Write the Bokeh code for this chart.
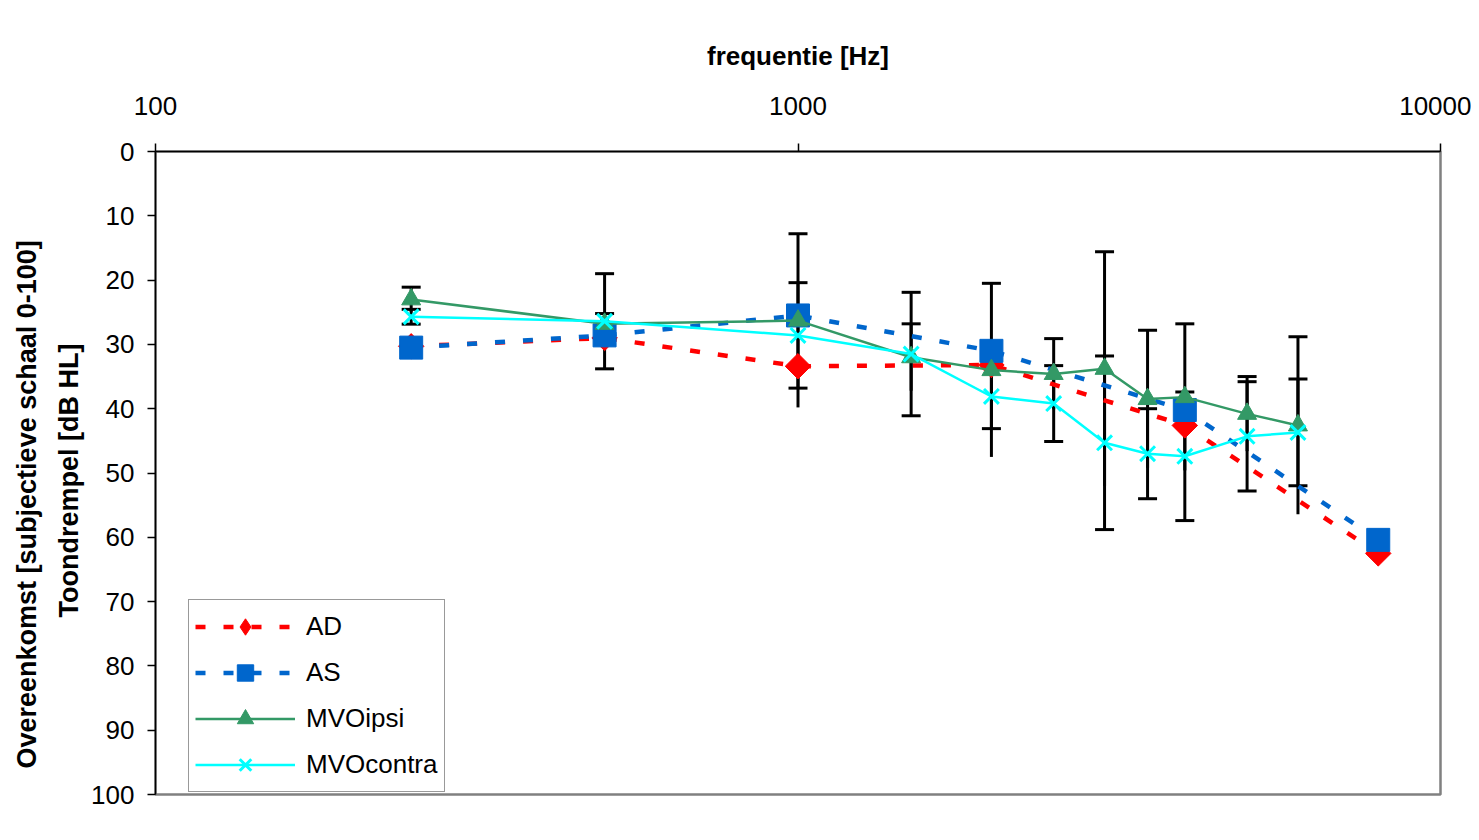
import numpy as np
from bokeh.plotting import figure
from bokeh.models import (Range1d, FixedTicker, NumeralTickFormatter, Legend, LegendItem, Title)
from bokeh.embed import file_html
from bokeh.resources import INLINE

# ---- data ----
freq_a = [250, 500, 1000, 2000, 4000, 8000]
ad = [30.3, 29.0, 33.4, 33.2, 42.6, 62.5]
as_vals = [30.5, 28.6, 25.5, 31.0, 40.2, 60.4]

freq_m = [250, 500, 1000, 1500, 2000, 2500, 3000, 3500, 4000, 5000, 6000]
ipsi = [23.0, 26.8, 26.3, 32.0, 34.0, 34.6, 33.8, 38.5, 38.2, 40.8, 42.6]
ipsi_err = [1.9, 1.6, 13.5, 5.2, 13.5, 5.5, 18.2, 10.7, 11.4, 5.8, 13.8]
contra = [25.7, 26.4, 28.6, 31.5, 38.1, 39.2, 45.3, 47.0, 47.4, 44.3, 43.7]
contra_err = [1.15, 7.4, 8.2, 9.6, 5.0, 5.9, 13.5, 7.0, 10.0, 8.5, 8.3]

x_ticks = [100, 1000, 10000]
y_ticks = [0, 10, 20, 30, 40, 50, 60, 70, 80, 90, 100]

FONT = "Liberation Sans"

p = figure(width=1471, height=832, x_axis_type="log",
           x_range=Range1d(100, 10000), y_range=Range1d(100, 0),
           x_axis_location="above", output_backend="svg", toolbar_location=None,
           min_border_left=155, min_border_right=31, min_border_top=151, min_border_bottom=38,
           background_fill_color="white", border_fill_color="white")

p.xgrid.visible = False
p.ygrid.visible = False
p.outline_line_color = "#808080"
p.outline_line_width = 2.5

for ax in (p.xaxis[0], p.yaxis[0]):
    ax.major_tick_in = 0
    ax.major_tick_out = 8
    ax.minor_tick_line_color = None
    ax.axis_line_color = "black"
    ax.axis_line_width = 1.5
    ax.major_tick_line_color = "black"
    ax.major_tick_line_width = 1.5
    ax.major_label_text_font = FONT
    ax.major_label_text_font_size = "26px"
    ax.major_label_text_color = "black"

p.xaxis.ticker = FixedTicker(ticks=x_ticks)
p.xaxis.formatter = NumeralTickFormatter(format="0")
p.xaxis.major_label_standoff = 29
p.xaxis.axis_label = "frequentie [Hz]"
p.xaxis.axis_label_text_font = FONT
p.xaxis.axis_label_text_font_size = "26px"
p.xaxis.axis_label_text_font_style = "bold"
p.xaxis.axis_label_text_color = "black"
p.xaxis.axis_label_standoff = 23

p.yaxis.ticker = FixedTicker(ticks=y_ticks)
p.yaxis.major_label_standoff = 13

t2 = Title(text="Toondrempel [dB HL]", align="left", offset=177,
           text_font=FONT, text_font_size="27px", text_font_style="bold", text_color="black")
t1 = Title(text="Overeenkomst [subjectieve schaal 0-100]", align="left", offset=26,
           text_font=FONT, text_font_size="27px", text_font_style="bold", text_color="black")
p.add_layout(t2, "left")
p.add_layout(t1, "left")

# ---- error bars (behind the series) ----
ip_lo = [v - e for v, e in zip(ipsi, ipsi_err)]
ip_hi = [v + e for v, e in zip(ipsi, ipsi_err)]
co_lo = [v - e for v, e in zip(contra, contra_err)]
co_hi = [v + e for v, e in zip(contra, contra_err)]

p.segment(x0=freq_m, y0=ip_lo, x1=freq_m, y1=ip_hi, line_color="black", line_width=3)
p.segment(x0=freq_m, y0=co_lo, x1=freq_m, y1=co_hi, line_color="black", line_width=3)
p.scatter(freq_m, ip_lo, marker="dash", size=19, line_color="black", line_width=3)
p.scatter(freq_m, co_lo, marker="dash", size=19, line_color="black", line_width=3)
p.scatter(freq_m, co_hi, marker="dash", size=19, line_color="black", line_width=3)

# ---- series ----
RED = "#FF0000"
BLUE = "#0066CC"
GREEN = "#339966"
CYAN = "#00FFFF"

ad_l = p.line(freq_a, ad, line_color=RED, line_width=4.5, line_dash="10 18")
# narrow diamond (hidden under the rotated squares) that serves as the legend key
ad_key = p.scatter(freq_a, ad, marker="diamond", size=24, fill_color=RED, line_color=RED)
ad_m = p.scatter(freq_a, ad, marker="square", angle=np.pi / 4, size=18,
                 fill_color=RED, line_color=RED)
as_l = p.line(freq_a, as_vals, line_color=BLUE, line_width=4.5, line_dash="10 18")
as_m = p.scatter(freq_a, as_vals, marker="square", size=23, fill_color=BLUE, line_color=BLUE)
ip_l = p.line(freq_m, ipsi, line_color=GREEN, line_width=2.5)
ip_m = p.scatter(freq_m, ipsi, marker="triangle", size=19, fill_color=GREEN, line_color=GREEN)
co_l = p.line(freq_m, contra, line_color=CYAN, line_width=2.5)
co_m = p.scatter(freq_m, contra, marker="x", size=21, line_color=CYAN, line_width=3)

legend = Legend(items=[
    LegendItem(label="AD", renderers=[ad_l, ad_key]),
    LegendItem(label="AS", renderers=[as_l, as_m]),
    LegendItem(label="MVOipsi", renderers=[ip_l, ip_m]),
    LegendItem(label="MVOcontra", renderers=[co_l, co_m]),
], location=(33, 2))
legend.label_text_font = FONT
legend.label_text_font_size = "26px"
legend.label_text_color = "black"
legend.glyph_width = 100
legend.glyph_height = 41
legend.label_height = 41
legend.spacing = 5
legend.padding = 6
legend.margin = 0
legend.label_standoff = 11
legend.border_line_color = "#333333"
legend.border_line_width = 1.5
legend.background_fill_color = "white"
legend.background_fill_alpha = 1.0
p.add_layout(legend, "center")

open("out.html", "w").write(file_html(p, INLINE))
